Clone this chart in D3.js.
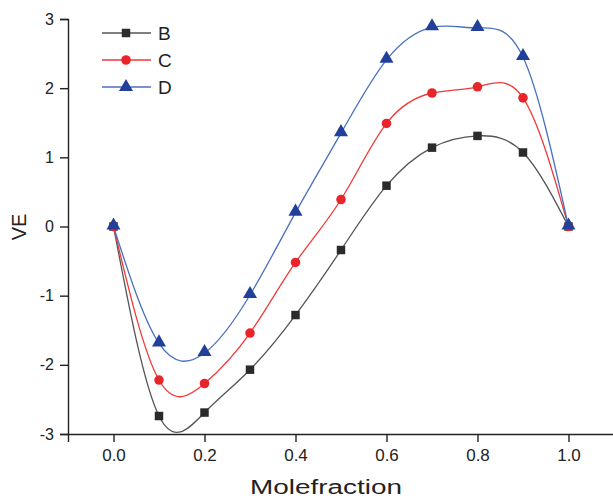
<!DOCTYPE html>
<html lang="en">
<head>
<meta charset="UTF-8"/>
<title>VE vs Molefraction</title>
<script src="https://d3js.org/d3.v7.min.js"></script>
<style>
  body { margin: 0; background: #fff; }
  text { font-family: Arial, "Liberation Sans", sans-serif; fill: #222; }
</style>
</head>
<body>
<script>
  var w = 613;
  var h = 498;

  // data
  var molefraction = [0, 0.1, 0.2, 0.3, 0.4, 0.5, 0.6, 0.7, 0.8, 0.9, 1.0];
  var seriesB = [0, -2.74, -2.69, -2.07, -1.28, -0.34, 0.59, 1.14, 1.31, 1.07, 0];
  var seriesC = [0, -2.22, -2.27, -1.54, -0.52, 0.39, 1.49, 1.93, 2.02, 1.86, 0];
  var seriesD = [0, -1.69, -1.83, -0.99, 0.20, 1.35, 2.41, 2.88, 2.87, 2.45, 0];
  var seriesNames = ["B", "C", "D"];
  var xTicks = [0, 0.2, 0.4, 0.6, 0.8, 1.0];
  var yTicks = [-3, -2, -1, 0, 1, 2, 3];

  var series = [
    { name: "B", values: seriesB, line: "#555555", fill: "#2b2b2b", shape: d3.symbolSquare },
    { name: "C", values: seriesC, line: "#f03a3a", fill: "#e8262a", shape: d3.symbolCircle },
    { name: "D", values: seriesD, line: "#4a70c0", fill: "#22409a", shape: d3.symbolTriangle }
  ];

  var padLeft = 68, padRight = 614, padTop = 19, padBottom = 434;

  var xScale = d3.scaleLinear().domain([-0.1, 1.1]).range([padLeft, padRight]);
  var yScale = d3.scaleLinear().domain([-3, 3]).range([padBottom, padTop]);

  var svg = d3.select("body").append("svg")
      .attr("width", w)
      .attr("height", h);

  // x axis
  var xAxis = svg.append("g").attr("transform", "translate(0," + padBottom + ")");
  xAxis.call(d3.axisBottom(xScale).tickValues(d3.range(-0.1, 1.15, 0.1)).tickSize(4).tickFormat(""));
  xAxis.call(d3.axisBottom(xScale).tickValues(xTicks).tickSize(8).tickPadding(7).tickFormat(d3.format(".1f")));
  xAxis.selectAll("path").attr("stroke", "#222").attr("stroke-width", 1.4);
  xAxis.selectAll("line").attr("stroke", "#222").attr("stroke-width", 1.4);
  xAxis.selectAll("text").attr("font-size", 17).attr("fill", "#222");

  // y axis
  var yAxis = svg.append("g").attr("transform", "translate(" + padLeft + ",0)");
  yAxis.call(d3.axisLeft(yScale).tickValues(d3.range(-3, 3.1, 0.5)).tickSize(5).tickFormat(""));
  yAxis.call(d3.axisLeft(yScale).tickValues(yTicks).tickSize(8).tickPadding(6).tickFormat(function (d) { return String(d); }));
  yAxis.selectAll("path").attr("stroke", "#222").attr("stroke-width", 1.4);
  yAxis.selectAll("line").attr("stroke", "#222").attr("stroke-width", 1.4);
  yAxis.selectAll("text").attr("font-size", 16).attr("fill", "#222");

  // axis titles
  svg.append("text")
      .attr("x", 326).attr("y", 494)
      .attr("text-anchor", "middle")
      .attr("font-size", 20)
      .attr("textLength", 152)
      .attr("lengthAdjust", "spacingAndGlyphs")
      .text("Molefraction");

  svg.append("text")
      .attr("transform", "translate(26,227) rotate(-90)")
      .attr("text-anchor", "middle")
      .attr("font-size", 20)
      .text("VE");

  var line = d3.line()
      .x(function (d, i) { return xScale(molefraction[i]); })
      .y(function (d) { return yScale(d); })
      .curve(d3.curveNatural);

  series.forEach(function (s) {
    svg.append("path")
        .attr("d", line(s.values))
        .attr("fill", "none")
        .attr("stroke", s.line)
        .attr("stroke-width", 1.3);
  });

  series.forEach(function (s) {
    var size = s.shape === d3.symbolTriangle ? 85 : 72;
    svg.selectAll(null)
        .data(s.values)
        .enter()
        .append("path")
        .attr("d", d3.symbol().type(s.shape).size(size))
        .attr("transform", function (d, i) {
          var dy = s.shape === d3.symbolTriangle ? -1 : 0;
          return "translate(" + xScale(molefraction[i]) + "," + (yScale(d) + dy) + ")";
        })
        .attr("fill", s.fill);
  });

  // legend
  var legend = svg.append("g");
  series.forEach(function (s, i) {
    var y = 33 + i * 27;
    legend.append("line")
        .attr("x1", 102).attr("x2", 151)
        .attr("y1", y).attr("y2", y)
        .attr("stroke", s.line).attr("stroke-width", 1.3);
    legend.append("path")
        .attr("d", d3.symbol().type(s.shape).size(s.shape === d3.symbolTriangle ? 85 : 72))
        .attr("transform", "translate(126," + y + ")")
        .attr("fill", s.fill);
    legend.append("text")
        .attr("x", 158).attr("y", y + 7)
        .attr("font-size", 19)
        .text(seriesNames[i]);
  });
</script>
</body>
</html>
